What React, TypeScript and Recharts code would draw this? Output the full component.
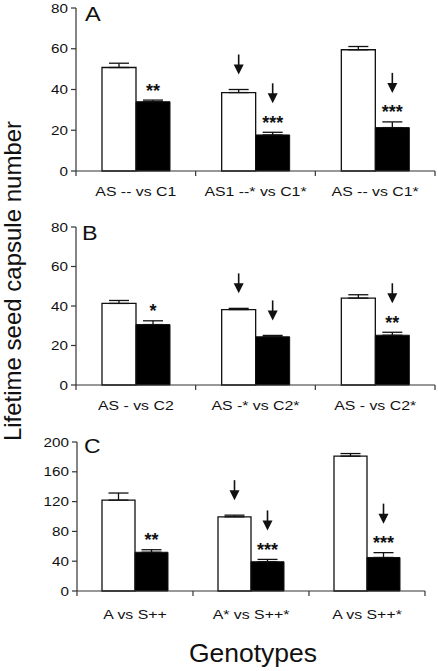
import React from "react";
import { BarChart, Bar, XAxis, YAxis, ErrorBar, LabelList } from "recharts";

const FONT = '"Liberation Sans", Arial, Helvetica, sans-serif';
const INK = "#111";
const AXIS = "#333";

// Panel A
const categoriesA = ["AS -- vs C1", "AS1 --* vs C1*", "AS -- vs C1*"];
const whiteA = [50.8, 38.5, 59.5];
const whiteErrA = [2.1, 1.5, 1.6];
const blackA = [34.0, 17.7, 21.3];
const blackErrA = [0.8, 1.3, 2.8];
const starsA = ["**", "***", "***"];
const arrowWhiteA = [false, true, false];
const arrowBlackA = [false, true, true];

// Panel B
const categoriesB = ["AS - vs C2", "AS -* vs C2*", "AS - vs C2*"];
const whiteB = [41.3, 38.2, 44.0];
const whiteErrB = [1.5, 0.6, 1.7];
const blackB = [30.6, 24.4, 25.2];
const blackErrB = [1.9, 0.7, 1.5];
const starsB = ["*", "", "**"];
const arrowWhiteB = [false, true, false];
const arrowBlackB = [false, true, true];

// Panel C
const categoriesC = ["A vs S++", "A* vs S++*", "A vs S++*"];
const whiteC = [122, 99.6, 181];
const whiteErrC = [9.5, 2.2, 3.5];
const blackC = [52, 39.3, 45];
const blackErrC = [3.4, 3.1, 6.5];
const starsC = ["**", "***", "***"];
const arrowWhiteC = [false, true, false];
const arrowBlackC = [false, true, true];

const ticks80 = [0, 20, 40, 60, 80];
const ticks200 = [0, 40, 80, 120, 160, 200];

type PanelProps = {
  top: number;
  height: number;
  marginTop: number;
  marginRight: number;
  axisHeight: number;
  yWidth: number;
  labelDy: number;
  barSize: number;
  categories: string[];
  white: number[];
  whiteErr: number[];
  black: number[];
  blackErr: number[];
  stars: string[];
  arrowWhite: boolean[];
  arrowBlack: boolean[];
  yTicks: number[];
};

function Panel(props: PanelProps) {
  const { categories, white, whiteErr, black, blackErr, stars, arrowWhite, arrowBlack, yTicks } = props;
  const rows = categories.map((name, i) => ({
    name,
    white: white[i],
    whiteErr: [0, whiteErr[i]],
    black: black[i],
    blackErr: [0, blackErr[i]],
  }));
  const yMax = yTicks[yTicks.length - 1];

  // stars and arrows sit above the error bar of each bar
  const annotate = (kind: "white" | "black") => (p: any) => {
    const vb = p.viewBox && p.viewBox.width != null ? p.viewBox : p;
    const i = p.index;
    const value = kind === "white" ? white[i] : black[i];
    const e = kind === "white" ? whiteErr[i] : blackErr[i];
    const k = vb.height / value;
    const cx = vb.x + vb.width / 2;
    const errTop = vb.y - e * k;
    const s = kind === "black" ? stars[i] : "";
    const hasArrow = kind === "white" ? arrowWhite[i] : arrowBlack[i];
    const starY = errTop - 13;
    const tip = s ? starY - 16 : errTop - 15;
    return (
      <g key={`${kind}-${i}`}>
        {s && (
          <text x={cx} y={starY + 9.5} textAnchor="middle" fontSize={18} fontWeight="bold" fontFamily={FONT} fill={INK}>
            {s}
          </text>
        )}
        {hasArrow && (
          <g>
            <line x1={cx} x2={cx} y1={tip - 20} y2={tip - 9} stroke={INK} strokeWidth={1.6} />
            <polygon points={`${cx - 5},${tip - 10} ${cx + 5},${tip - 10} ${cx},${tip}`} fill={INK} />
          </g>
        )}
      </g>
    );
  };

  const CatTick = (p: any) => {
    const half = p.payload && p.payload.offset > 0 ? p.payload.offset : p.width / p.visibleTicksCount / 2;
    const last = p.index === p.visibleTicksCount - 1;
    return (
      <g>
        <line x1={p.x - half} x2={p.x - half} y1={p.y} y2={p.y + 5} stroke={AXIS} strokeWidth={1.2} />
        {last && <line x1={p.x + half} x2={p.x + half} y1={p.y} y2={p.y + 5} stroke={AXIS} strokeWidth={1.2} />}
        <g transform={`translate(${p.x},${p.y + props.labelDy})`}>
          <text transform="scale(1.27,1)" textAnchor="middle" fontSize={12.5} fontFamily={FONT} fill={INK}>
            {p.payload.value}
          </text>
        </g>
      </g>
    );
  };

  const ValTick = (p: any) => (
    <g transform={`translate(${p.x},${p.y})`}>
      <text transform="scale(1.22,1)" textAnchor="end" dy="0.36em" fontSize={12.5} fontFamily={FONT} fill={INK}>
        {p.payload.value}
      </text>
    </g>
  );

  return (
    <div style={{ position: "absolute", top: props.top, left: 0 }}>
      <BarChart
        width={438}
        height={props.height}
        data={rows}
        barGap={0}
        barSize={props.barSize}
        margin={{ top: props.marginTop, right: props.marginRight, left: 0, bottom: 0 }}
      >
        <XAxis
          dataKey="name"
          height={props.axisHeight}
          tickLine={false}
          tickSize={0}
          tickMargin={0}
          axisLine={{ stroke: AXIS, strokeWidth: 1.2 }}
          tick={CatTick}
          interval={0}
        />
        <YAxis
          width={props.yWidth}
          type="number"
          domain={[0, yMax]}
          ticks={yTicks}
          tickSize={5}
          tickMargin={3}
          axisLine={{ stroke: AXIS, strokeWidth: 1.2 }}
          tickLine={{ stroke: AXIS, strokeWidth: 1.2 }}
          tick={ValTick}
          interval={0}
        />
        <Bar dataKey="white" fill="#ffffff" stroke={INK} strokeWidth={1.3} isAnimationActive={false}>
          <ErrorBar dataKey="whiteErr" width={10} stroke={INK} strokeWidth={1.3} direction="y" />
          <LabelList dataKey="white" content={annotate("white")} />
        </Bar>
        <Bar dataKey="black" fill="#000000" stroke={INK} strokeWidth={1} isAnimationActive={false}>
          <ErrorBar dataKey="blackErr" width={10} stroke={INK} strokeWidth={1.3} direction="y" />
          <LabelList dataKey="black" content={annotate("black")} />
        </Bar>
      </BarChart>
    </div>
  );
}

export default function App() {
  return (
    <div style={{ position: "absolute", top: 0, left: 0, width: 438, height: 671, background: "#fff", fontFamily: FONT }}>
      <Panel
        top={0}
        height={212}
        marginTop={8}
        marginRight={3}
        axisHeight={41}
        yWidth={76}
        labelDy={24.5}
        barSize={34}
        categories={categoriesA}
        white={whiteA}
        whiteErr={whiteErrA}
        black={blackA}
        blackErr={blackErrA}
        stars={starsA}
        arrowWhite={arrowWhiteA}
        arrowBlack={arrowBlackA}
        yTicks={ticks80}
      />
      <Panel
        top={210}
        height={212}
        marginTop={17}
        marginRight={3}
        axisHeight={37}
        yWidth={76}
        labelDy={25}
        barSize={34}
        categories={categoriesB}
        white={whiteB}
        whiteErr={whiteErrB}
        black={blackB}
        blackErr={blackErrB}
        stars={starsB}
        arrowWhite={arrowWhiteB}
        arrowBlack={arrowBlackB}
        yTicks={ticks80}
      />
      <Panel
        top={425}
        height={212}
        marginTop={17}
        marginRight={13}
        axisHeight={46}
        yWidth={77}
        labelDy={27.5}
        barSize={33}
        categories={categoriesC}
        white={whiteC}
        whiteErr={whiteErrC}
        black={blackC}
        blackErr={blackErrC}
        stars={starsC}
        arrowWhite={arrowWhiteC}
        arrowBlack={arrowBlackC}
        yTicks={ticks200}
      />
      <svg width={438} height={671} style={{ position: "absolute", top: 0, left: 0, pointerEvents: "none" }}>
        <g transform="translate(85,20.7)">
          <text transform="scale(1.15,1)" fontSize={20.5} fontFamily={FONT} fill={INK}>A</text>
        </g>
        <g transform="translate(82,240)">
          <text transform="scale(1.2,1)" fontSize={19.5} fontFamily={FONT} fill={INK}>B</text>
        </g>
        <g transform="translate(84,453)">
          <text transform="scale(1.12,1)" fontSize={20.5} fontFamily={FONT} fill={INK}>C</text>
        </g>
        <text
          transform="translate(21,281) rotate(-90)"
          textAnchor="middle"
          fontSize={24}
          fontFamily={FONT}
          fill={INK}
        >
          Lifetime seed capsule number
        </text>
        <text x={253} y={661.5} textAnchor="middle" fontSize={26.5} fontFamily={FONT} fill={INK}>
          Genotypes
        </text>
      </svg>
    </div>
  );
}
